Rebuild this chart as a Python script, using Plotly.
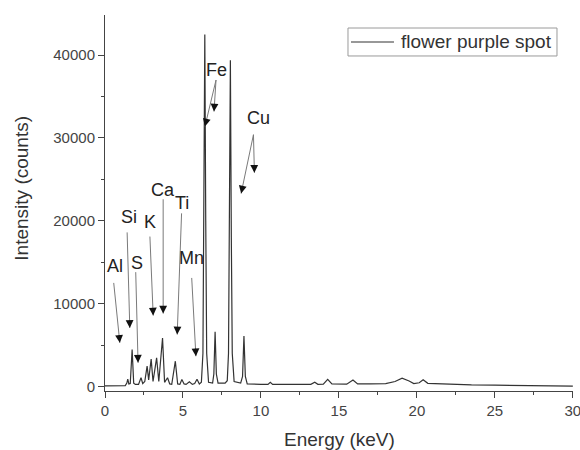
import math
import plotly.graph_objects as go

# Spectrum (energy in keV, intensity in counts)
energy = [0.0, 1.30, 1.40, 1.46, 1.53, 1.62, 1.74, 1.84, 1.95, 2.15, 2.31, 2.42, 2.55,
          2.70, 2.80, 2.96, 3.08, 3.31, 3.45, 3.69, 3.82, 4.01, 4.15, 4.28, 4.51, 4.66,
          4.80, 4.93, 5.07, 5.20, 5.41, 5.60, 5.75, 5.90, 6.05, 6.18, 6.28, 6.34, 6.40,
          6.46, 6.52, 6.64, 6.90, 6.98, 7.06, 7.14, 7.25, 7.70, 7.84, 7.92, 7.98, 8.04,
          8.10, 8.16, 8.28, 8.70, 8.82, 8.91, 9.00, 9.12, 10.0, 10.45, 10.6, 10.75, 12.0,
          13.2, 13.45, 13.65, 14.0, 14.28, 14.55, 15.5, 15.9, 16.2, 17.0, 18.0, 18.6,
          19.05, 19.5, 19.8, 20.15, 20.4, 20.7, 21.5, 22.9, 23.5, 25.0, 27.5, 30.0]
intensity = [80, 100, 400, 880, 300, 350, 4450, 400, 250, 250, 1050, 350, 600,
             2450, 800, 3300, 600, 3450, 600, 5850, 500, 1050, 300, 250, 3050, 300,
             250, 850, 300, 250, 550, 250, 350, 880, 300, 500, 4000, 20000, 42500,
             20000, 4000, 500, 400, 1500, 6600, 1500, 400, 400, 700, 4000, 18000, 39400,
             18000, 4000, 600, 400, 1200, 6100, 1200, 300, 250, 250, 500, 250, 250,
             250, 500, 250, 280, 850, 300, 280, 780, 300, 300, 350, 600,
             1000, 650, 350, 450, 800, 380, 300, 250, 180, 150, 100, 50]
series_name = "flower purple spot"

# Element labels: label position and arrow tail/head (keV, counts)
elements = ["Al", "Si", "S", "K", "Ca", "Ti", "Mn", "Fe", "Cu"]
label_x = [0.62, 1.54, 2.06, 2.88, 3.73, 4.91, 5.56, 7.12, 9.84]
label_y = [14500, 20400, 14900, 19900, 23700, 22100, 15500, 38200, 32400]
arrow_element = ["Al", "Si", "S", "K", "Ca", "Ti", "Mn", "Fe", "Fe", "Cu", "Cu"]
arrow_tail_x = [0.56, 1.42, 1.97, 2.88, 3.73, 4.91, 5.56, 7.12, 7.12, 9.52, 9.52]
arrow_tail_y = [12500, 18600, 13800, 18100, 22600, 20900, 13100, 37000, 37000, 30400, 30400]
arrow_head_x = [0.95, 1.59, 2.12, 3.09, 3.73, 4.63, 5.83, 6.41, 6.99, 8.73, 9.58]
arrow_head_y = [5270, 7070, 2860, 8560, 8800, 6270, 3650, 31400, 33200, 23300, 25800]

FONT = "Liberation Sans, Arial, sans-serif"
X_RANGE = [0, 30.01]
Y_RANGE = [-550, 44850]
PLOT_W, PLOT_H = 468, 376
PX_PER_X = PLOT_W / (X_RANGE[1] - X_RANGE[0])
PX_PER_Y = PLOT_H / (Y_RANGE[1] - Y_RANGE[0])

fig = go.Figure()
fig.add_trace(go.Scatter(x=energy, y=intensity, mode="lines", name=series_name,
                         line=dict(color="#333333", width=1.2), showlegend=False))

annotations = []
shapes = []
for name, lx, ly in zip(elements, label_x, label_y):
    annotations.append(dict(x=lx, y=ly, xref="x", yref="y", text=name, showarrow=False,
                            font=dict(family=FONT, size=18, color="#222222")))
for tx, ty, hx, hy in zip(arrow_tail_x, arrow_tail_y, arrow_head_x, arrow_head_y):
    # grey shaft
    shapes.append(dict(type="line", xref="x", yref="y", x0=tx, y0=ty, x1=hx, y1=hy,
                       line=dict(color="#7a7a7a", width=1)))
    # black head: short arrow at the end of the shaft
    length_px = math.hypot((tx - hx) * PX_PER_X, (ty - hy) * PX_PER_Y)
    f = 9.0 / length_px
    annotations.append(dict(x=hx, y=hy, ax=hx + f * (tx - hx), ay=hy + f * (ty - hy),
                            xref="x", yref="y", axref="x", ayref="y",
                            text="", showarrow=True, arrowhead=2, arrowsize=1.3,
                            arrowwidth=1.2, arrowcolor="#111111", standoff=0, startstandoff=0))

# axis titles
annotations.append(dict(x=0.5, y=-0.13, xref="paper", yref="paper", text="Energy (keV)",
                        showarrow=False, font=dict(family=FONT, size=19, color="#333333"),
                        xanchor="center", yanchor="middle"))
annotations.append(dict(x=-0.178, y=0.54, xref="paper", yref="paper", text="Intensity (counts)",
                        showarrow=False, textangle=-90,
                        font=dict(family=FONT, size=19, color="#333333"),
                        xanchor="center", yanchor="middle"))

# legend box
shapes.append(dict(type="rect", xref="paper", yref="paper", x0=0.5192, x1=0.9658,
                   y0=0.8910, y1=0.9654, line=dict(color="#9a9a9a", width=1),
                   fillcolor="white"))
shapes.append(dict(type="line", xref="paper", yref="paper", x0=0.5256, x1=0.6175,
                   y0=0.9282, y1=0.9282, line=dict(color="#333333", width=1.2)))
annotations.append(dict(x=0.6290, y=0.9282, xref="paper", yref="paper", text=series_name,
                        showarrow=False, xanchor="left", yanchor="middle",
                        font=dict(family=FONT, size=19, color="#333333")))

fig.update_layout(
    width=580, height=450,
    margin=dict(l=105, r=7, t=15, b=59, autoexpand=False),
    paper_bgcolor="white", plot_bgcolor="white",
    font=dict(family=FONT, size=15, color="#444444"),
    showlegend=False,
    annotations=annotations,
    shapes=shapes,
)
fig.update_xaxes(range=X_RANGE, tickvals=[0, 5, 10, 15, 20, 25, 30],
                 ticklabeloverflow="allow", automargin=False,
                 showline=True, linecolor="#444444", linewidth=1,
                 ticks="outside", ticklen=6, tickcolor="#444444",
                 minor=dict(ticks="outside", ticklen=3, dtick=2.5, tickcolor="#444444"),
                 showgrid=False, zeroline=False)
fig.update_yaxes(range=Y_RANGE, tickvals=[0, 10000, 20000, 30000, 40000], tickformat="d",
                 automargin=False,
                 showline=True, linecolor="#444444", linewidth=1,
                 ticks="outside", ticklen=6, tickcolor="#444444",
                 minor=dict(ticks="outside", ticklen=3, dtick=5000, tick0=0, tickcolor="#444444"),
                 showgrid=False, zeroline=False)

fig.write_html("out.html", config={"displayModeBar": False},
               post_script="document.body.style.margin='0';document.body.style.padding='0';"
                           "document.body.style.overflow='hidden';")
